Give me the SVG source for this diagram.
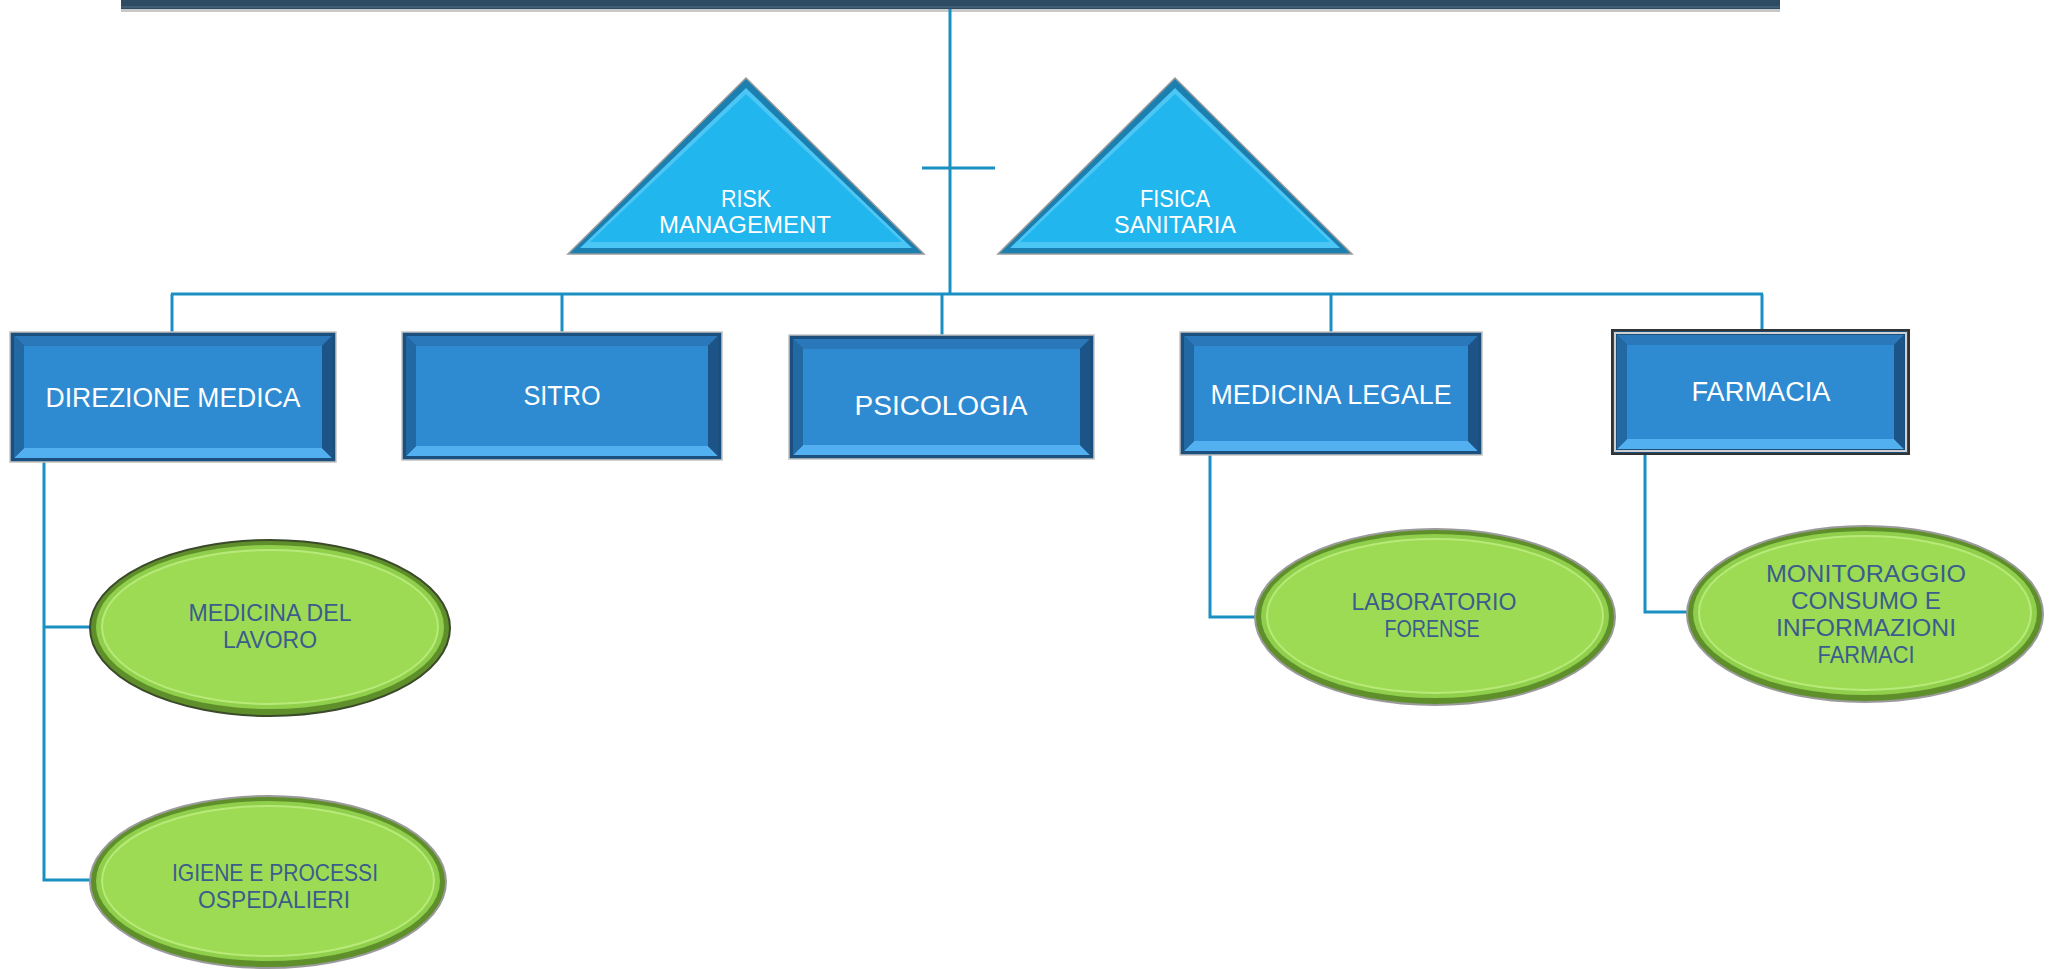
<svg xmlns="http://www.w3.org/2000/svg" width="2056" height="969" viewBox="0 0 2056 969">
<style>
.ln{stroke:#1a8fc2;stroke-width:3;fill:none}
.bframe{fill:#1b4f7d;stroke:#c4c4c4;stroke-width:1.5}
.btop{fill:#2a77ba}
.bbot{fill:#52b0f0}
.bleft{fill:#2268a3}
.bright{fill:#1c5487}
.bface{fill:#2e8bd2}
.bt{font-family:"Liberation Sans",Arial,sans-serif;font-size:27px;fill:#ffffff;text-anchor:middle}
.tt{font-family:"Liberation Sans",Arial,sans-serif;font-size:23px;fill:#ffffff;text-anchor:middle}
.triout{fill:#1b7fb0;stroke:#9a9a9a;stroke-width:1.5}
.triband{fill:#4cc6f4}
.triface{fill:#22b6ee}
.eout{fill:#5f8f2a;stroke:#3a4a2a;stroke-width:2}
.eband{fill:#8fcf4c}
.eface{fill:#9edb55;stroke:#b7ea78;stroke-width:2}
.et{font-family:"Liberation Sans",Arial,sans-serif;font-size:24px;fill:#3a5d8c;text-anchor:middle}
</style>

<g id="top-bar">
  <rect x="121" y="9" width="1659" height="3" fill="#c8c8c8"/>
  <rect x="121" y="0" width="1659" height="9" fill="#2f4b61"/>
  <rect x="121" y="6" width="1659" height="2" fill="#3f5e75"/>
</g>

<g id="connectors">
  <line class="ln" x1="950" y1="9" x2="950" y2="294"/>
  <line class="ln" x1="922" y1="168" x2="995" y2="168"/>
  <line class="ln" x1="171" y1="294" x2="1763" y2="294"/>
  <line class="ln" x1="172" y1="294" x2="172" y2="332"/>
  <line class="ln" x1="562" y1="294" x2="562" y2="332"/>
  <line class="ln" x1="942" y1="294" x2="942" y2="335"/>
  <line class="ln" x1="1331" y1="294" x2="1331" y2="332"/>
  <line class="ln" x1="1762" y1="294" x2="1762" y2="330"/>
  <polyline class="ln" points="44,462 44,880 92,880"/>
  <line class="ln" x1="44" y1="627" x2="92" y2="627"/>
  <polyline class="ln" points="1210,455 1210,617 1258,617"/>
  <polyline class="ln" points="1645,454 1645,612 1690,612"/>
</g>

<g id="risk-management">
  <polygon class="triout" points="746,78 568,254 924,254"/>
  <polygon class="triband" points="746,88 580,248 912,248"/>
  <polygon class="triface" points="746,94 590,242 902,242"/>
  <text class="tt" x="746" y="207" textLength="50" lengthAdjust="spacingAndGlyphs">RISK</text>
  <text class="tt" x="745" y="233" textLength="172" lengthAdjust="spacingAndGlyphs">MANAGEMENT</text>
</g>

<g id="fisica-sanitaria">
  <polygon class="triout" points="1175,78 998,254 1352,254"/>
  <polygon class="triband" points="1175,88 1010,248 1340,248"/>
  <polygon class="triface" points="1175,94 1020,242 1330,242"/>
  <text class="tt" x="1175" y="207" textLength="70" lengthAdjust="spacingAndGlyphs">FISICA</text>
  <text class="tt" x="1175" y="233" textLength="122" lengthAdjust="spacingAndGlyphs">SANITARIA</text>
</g>

<g id="direzione-medica">
  <rect class="bframe" x="10" y="332" width="326" height="130"/>
  <polygon class="btop" points="14,336 332,336 322,346 24,346"/>
  <polygon class="bbot" points="14,458 332,458 322,448 24,448"/>
  <polygon class="bleft" points="14,336 24,346 24,448 14,458"/>
  <polygon class="bright" points="332,336 322,346 322,448 332,458"/>
  <rect class="bface" x="24" y="346" width="298" height="102"/>
  <text class="bt" x="173" y="407" textLength="255" lengthAdjust="spacingAndGlyphs">DIREZIONE MEDICA</text>
</g>

<g id="sitro">
  <rect class="bframe" x="402" y="332" width="320" height="128"/>
  <polygon class="btop" points="406,336 718,336 708,346 416,346"/>
  <polygon class="bbot" points="406,456 718,456 708,446 416,446"/>
  <polygon class="bleft" points="406,336 416,346 416,446 406,456"/>
  <polygon class="bright" points="718,336 708,346 708,446 718,456"/>
  <rect class="bface" x="416" y="346" width="292" height="100"/>
  <text class="bt" x="562" y="405" textLength="77" lengthAdjust="spacingAndGlyphs">SITRO</text>
</g>

<g id="psicologia">
  <rect class="bframe" x="789" y="335" width="305" height="124"/>
  <polygon class="btop" points="793,339 1090,339 1080,349 803,349"/>
  <polygon class="bbot" points="793,455 1090,455 1080,445 803,445"/>
  <polygon class="bleft" points="793,339 803,349 803,445 793,455"/>
  <polygon class="bright" points="1090,339 1080,349 1080,445 1090,455"/>
  <rect class="bface" x="803" y="349" width="277" height="96"/>
  <text class="bt" x="941" y="415" textLength="173" lengthAdjust="spacingAndGlyphs">PSICOLOGIA</text>
</g>

<g id="medicina-legale">
  <rect class="bframe" x="1180" y="332" width="302" height="123"/>
  <polygon class="btop" points="1184,336 1478,336 1468,346 1194,346"/>
  <polygon class="bbot" points="1184,451 1478,451 1468,441 1194,441"/>
  <polygon class="bleft" points="1184,336 1194,346 1194,441 1184,451"/>
  <polygon class="bright" points="1478,336 1468,346 1468,441 1478,451"/>
  <rect class="bface" x="1194" y="346" width="274" height="95"/>
  <text class="bt" x="1331" y="404" textLength="241" lengthAdjust="spacingAndGlyphs">MEDICINA LEGALE</text>
</g>

<g id="farmacia">
  <rect class="bframe" x="1612" y="330" width="297" height="124" style="stroke:#333333;stroke-width:2"/>
  <rect x="1615" y="333" width="291" height="118" fill="none" stroke="#d0d0d0" stroke-width="2"/>
  <polygon class="btop" points="1617,335 1904,335 1894,345 1627,345"/>
  <polygon class="bbot" points="1617,449 1904,449 1894,439 1627,439"/>
  <polygon class="bleft" points="1617,335 1627,345 1627,439 1617,449"/>
  <polygon class="bright" points="1904,335 1894,345 1894,439 1904,449"/>
  <rect class="bface" x="1627" y="345" width="267" height="94"/>
  <text class="bt" x="1761" y="401" textLength="139" lengthAdjust="spacingAndGlyphs">FARMACIA</text>
</g>

<g id="medicina-del-lavoro">
  <ellipse class="eout" cx="270" cy="628" rx="180" ry="88"/>
  <ellipse class="eband" cx="270" cy="627" rx="174" ry="82"/>
  <ellipse class="eface" cx="270" cy="627" rx="168" ry="77"/>
  <text class="et" x="270" y="621" textLength="163" lengthAdjust="spacingAndGlyphs">MEDICINA DEL</text>
  <text class="et" x="270" y="648" textLength="94" lengthAdjust="spacingAndGlyphs">LAVORO</text>
</g>

<g id="igiene-processi-ospedalieri">
  <ellipse class="eout" cx="268" cy="882" rx="178" ry="86" style="stroke:#9a9a9a"/>
  <ellipse class="eband" cx="268" cy="881" rx="172" ry="80"/>
  <ellipse class="eface" cx="268" cy="881" rx="166" ry="75"/>
  <text class="et" x="275" y="881" textLength="206" lengthAdjust="spacingAndGlyphs">IGIENE E PROCESSI</text>
  <text class="et" x="274" y="908" textLength="152" lengthAdjust="spacingAndGlyphs">OSPEDALIERI</text>
</g>

<g id="laboratorio-forense">
  <ellipse class="eout" cx="1435" cy="617" rx="180" ry="88" style="stroke:#9a9a9a"/>
  <ellipse class="eband" cx="1435" cy="616" rx="174" ry="82"/>
  <ellipse class="eface" cx="1435" cy="616" rx="168" ry="77"/>
  <text class="et" x="1434" y="610" textLength="165" lengthAdjust="spacingAndGlyphs">LABORATORIO</text>
  <text class="et" x="1432" y="637" textLength="95" lengthAdjust="spacingAndGlyphs">FORENSE</text>
</g>

<g id="monitoraggio-farmaci">
  <ellipse class="eout" cx="1865" cy="614" rx="178" ry="88" style="stroke:#9a9a9a"/>
  <ellipse class="eband" cx="1865" cy="613" rx="172" ry="82"/>
  <ellipse class="eface" cx="1865" cy="613" rx="166" ry="77"/>
  <text class="et" x="1866" y="582" textLength="200" lengthAdjust="spacingAndGlyphs">MONITORAGGIO</text>
  <text class="et" x="1866" y="609" textLength="150" lengthAdjust="spacingAndGlyphs">CONSUMO E</text>
  <text class="et" x="1866" y="636" textLength="180" lengthAdjust="spacingAndGlyphs">INFORMAZIONI</text>
  <text class="et" x="1866" y="663" textLength="97" lengthAdjust="spacingAndGlyphs">FARMACI</text>
</g>
</svg>
